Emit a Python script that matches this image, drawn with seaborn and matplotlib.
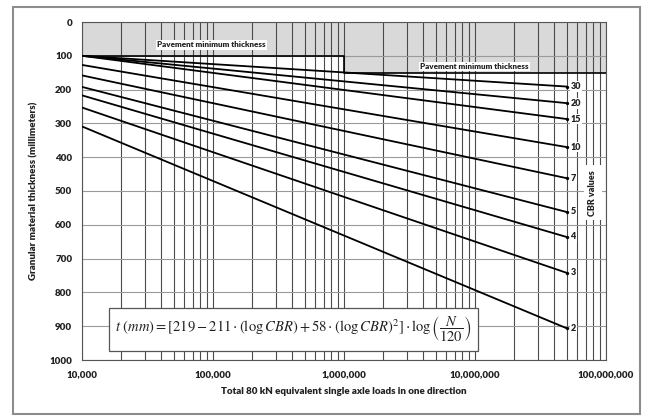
import numpy as np
import pandas as pd
import matplotlib
matplotlib.use("Agg")
import matplotlib.pyplot as plt
import seaborn as sns
from matplotlib.ticker import FixedLocator, LogLocator, FuncFormatter, MultipleLocator
from matplotlib.patches import Rectangle

# ---- data ----
cbr_values = [2, 3, 4, 5, 7, 10, 15, 20, 30]
n_start = 10_000
n_end = 50_000_000
t_at_start = [309, 253, 217, 192, 158, 127, 100, 100, 100]   # mm at 10,000 ESAL
t_at_end = [906, 742, 636, 562, 462, 370, 287, 240, 191]     # mm at 50,000,000 ESAL

min_n = [10_000, 1_000_000, 1_000_000, 100_000_000]
min_t = [100, 100, 150, 150]

x_ticks = [1e4, 1e5, 1e6, 1e7, 1e8]
y_ticks = list(range(0, 1001, 100))

rows = []
for c, a, b in zip(cbr_values, t_at_start, t_at_end):
    rows.append({"CBR": c, "N": n_start, "t": a})
    rows.append({"CBR": c, "N": n_end, "t": b})
df = pd.DataFrame(rows)
ends = df[df["N"] == n_end]

sns.set_style("white")
plt.rcParams["font.family"] = ["Lato", "DejaVu Sans"]
plt.rcParams["mathtext.fontset"] = "stix"

fig = plt.figure(figsize=(6.5, 4.16), dpi=100)
ax = fig.add_axes([82 / 650, 1 - 360 / 416, 524 / 650, 338 / 416])

# pavement minimum thickness zone
ax.fill_between(min_n, min_t, 0, color="#d9d9d9", zorder=0.2, linewidth=0)
ax.plot(min_n, min_t, color="black", lw=1.2, zorder=2)

sns.lineplot(data=df, x="N", y="t", units="CBR", estimator=None,
             color="black", lw=1.3, ax=ax, zorder=3)
sns.scatterplot(data=ends, x="N", y="t", color="black", s=5, ax=ax,
                zorder=4, edgecolor="black", legend=False)

for _, r in ends.iterrows():
    ax.text(r["N"] * 1.07, r["t"], f"{int(r['CBR'])}", fontsize=6.5,
            fontweight="heavy", ha="left", va="center", color="#222222",
            bbox=dict(boxstyle="square,pad=0.1", fc="white", ec="none"), zorder=5)

ax.text(7.9e7, 505, "CBR values", rotation=90, fontsize=6.5, fontweight="heavy",
        ha="center", va="center", color="#222222",
        bbox=dict(boxstyle="square,pad=0.5", fc="white", ec="none"), zorder=5)

ax.text(9.7e4, 68, "Pavement minimum thickness", fontsize=5.8, fontweight="heavy",
        ha="center", va="center", color="#222222",
        bbox=dict(boxstyle="square,pad=0.15", fc="white", ec="none"), zorder=5)
ax.text(9.9e6, 132, "Pavement minimum thickness", fontsize=5.8, fontweight="heavy",
        ha="center", va="center", color="#222222",
        bbox=dict(boxstyle="square,pad=0.15", fc="white", ec="none"), zorder=5)

formula = (r"$t\ (mm) = [219 - 211\cdot(\log CBR) + 58\cdot(\log CBR)^2]"
           r"\cdot\log\left(\dfrac{N}{120}\right)$")
ax.text(4.1e5, 910, formula, fontsize=10.5, ha="center", va="center", color="#222222",
        bbox=dict(boxstyle="square,pad=0.45", fc="white", ec="#555555", lw=0.9), zorder=5)

ax.set_xscale("log")
ax.set_xlim(1e4, 1e8)
ax.set_ylim(1000, 0)
ax.xaxis.set_major_locator(FixedLocator(x_ticks))
ax.xaxis.set_minor_locator(LogLocator(base=10, subs=np.arange(2, 10)))
ax.xaxis.set_major_formatter(FuncFormatter(lambda v, p: f"{int(v):,}"))
ax.yaxis.set_major_locator(FixedLocator(y_ticks))
ax.yaxis.set_minor_locator(MultipleLocator(10))

ax.set_axisbelow(True)
ax.grid(True, axis="x", which="both", color="#4a4a4a", lw=0.8)
ax.grid(True, axis="y", which="major", color="#9a9a9a", lw=0.8)

ax.tick_params(axis="both", which="major", direction="out", length=4, width=0.8,
               color="#555555", labelsize=7, pad=3)
ax.tick_params(axis="both", which="minor", direction="out", length=2.5, width=0.6,
               color="#777777")
for lab in ax.get_xticklabels() + ax.get_yticklabels():
    lab.set_fontweight("heavy")
    lab.set_color("#222222")

for s in ax.spines.values():
    s.set_color("#555555")
    s.set_linewidth(0.8)

ax.set_xlabel("Total 80 kN equivalent single axle loads in one direction",
              fontsize=7, fontweight="heavy", color="#222222", labelpad=6)
ax.set_ylabel("Granular material thickness (millimeters)",
              fontsize=7, fontweight="heavy", color="#222222", labelpad=8)

fig.patches.append(Rectangle((13 / 650, 2 / 416), 627 / 650, 407 / 416,
                             transform=fig.transFigure, fill=False,
                             edgecolor="#8c8c8c", lw=1.5))

fig.savefig("out.png", dpi=100)
